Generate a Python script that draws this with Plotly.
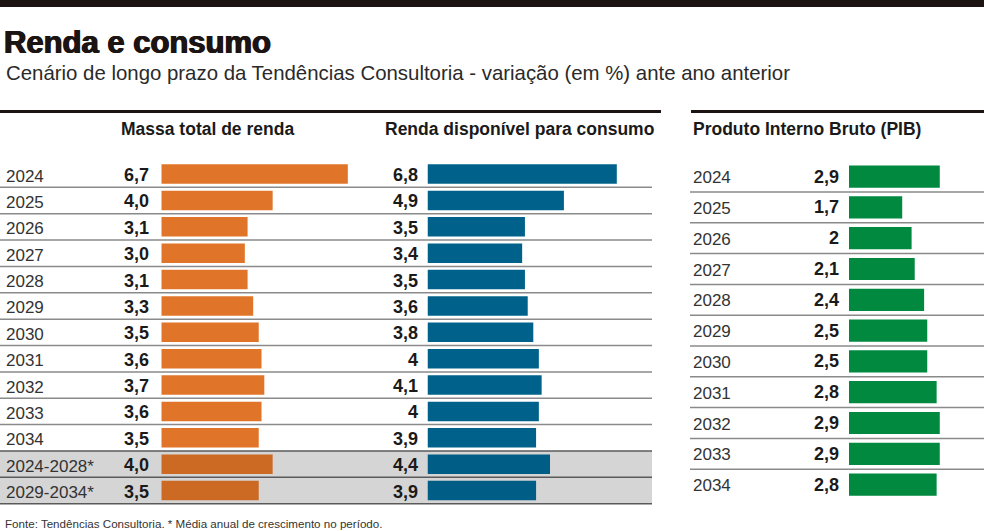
import plotly.graph_objects as go

# Data
periodos = ['2024', '2025', '2026', '2027', '2028', '2029', '2030', '2031', '2032', '2033', '2034',
            '2024-2028*', '2029-2034*']
massa_renda = [6.7, 4.0, 3.1, 3.0, 3.1, 3.3, 3.5, 3.6, 3.7, 3.6, 3.5, 4.0, 3.5]
renda_disponivel = [6.8, 4.9, 3.5, 3.4, 3.5, 3.6, 3.8, 4.0, 4.1, 4.0, 3.9, 4.4, 3.9]

anos_pib = ['2024', '2025', '2026', '2027', '2028', '2029', '2030', '2031', '2032', '2033', '2034']
pib = [2.9, 1.7, 2.0, 2.1, 2.4, 2.5, 2.5, 2.8, 2.9, 2.9, 2.8]

titulo = 'Renda e consumo'
subtitulo = 'Cenário de longo prazo da Tendências Consultoria - variação (em %) ante ano anterior'
fonte = 'Fonte: Tendências Consultoria. * Média anual de crescimento no período.'

W, H = 984, 531
FONT = 'Liberation Sans, Arial, sans-serif'
DARK = '#1c1412'


def px(x):
    return x / W


def py(y):
    return 1 - y / H


def fmt_fixed(v):
    return f'{v:.1f}'.replace('.', ',')


def fmt_short(v):
    return ('%g' % v).replace('.', ',')


# Average rows have a darker orange (on gray background)
media = ['*' in p for p in periodos]
cores_massa = ['#cc6a24' if m else '#e07428' for m in media]
cores_renda = ['#005d85' if m else '#00628a' for m in media]

fig = go.Figure()
fig.add_trace(go.Bar(x=massa_renda, y=periodos, orientation='h', marker_color=cores_massa,
                     marker_line_width=0, width=0.74, xaxis='x', yaxis='y', hoverinfo='x+y'))
fig.add_trace(go.Bar(x=renda_disponivel, y=periodos, orientation='h', marker_color=cores_renda,
                     marker_line_width=0, width=0.74, xaxis='x2', yaxis='y', hoverinfo='x+y'))
fig.add_trace(go.Bar(x=pib, y=anos_pib, orientation='h', marker_color='#00893f',
                     marker_line_width=0, width=0.72, xaxis='x3', yaxis='y2', hoverinfo='x+y'))

shapes = []
# top dark band
shapes.append(dict(type='rect', xref='paper', yref='paper', x0=0, x1=1, y0=py(7), y1=1,
                   fillcolor=DARK, line_width=0))
# thick lines above tables
shapes.append(dict(type='line', xref='paper', yref='paper', x0=0, x1=px(661), y0=py(111.5), y1=py(111.5),
                   line=dict(color=DARK, width=3)))
shapes.append(dict(type='line', xref='paper', yref='paper', x0=px(691), x1=1, y0=py(111.5), y1=py(111.5),
                   line=dict(color=DARK, width=3)))
# gray background for average rows
n_media = sum(media)
shapes.append(dict(type='rect', xref='paper', yref='y', x0=0, x1=px(652),
                   y0=len(periodos) - n_media - 0.5, y1=len(periodos) - 0.5,
                   fillcolor='#d5d5d5', line_width=0, layer='below'))
# row separators, left table
for i in range(len(periodos)):
    cor = '#5a5a5a' if i >= len(periodos) - n_media - 1 else '#8a8a8a'
    shapes.append(dict(type='line', xref='paper', yref='y', x0=0, x1=px(652), y0=i + 0.5, y1=i + 0.5,
                       line=dict(color=cor, width=1.5)))
# row separators, right table
for i in range(len(anos_pib) - 1):
    shapes.append(dict(type='line', xref='paper', yref='y2', x0=px(690), x1=1, y0=i + 0.5, y1=i + 0.5,
                       line=dict(color='#8a8a8a', width=1.5)))

annotations = []
annotations.append(dict(text='<b>' + titulo + '</b>', x=px(2), y=py(43), xref='paper', yref='paper',
                        xanchor='left', yanchor='middle', showarrow=False,
                        font=dict(family=FONT, size=31, color=DARK,
                                  shadow='0.7px 0 0 #1c1412, -0.7px 0 0 #1c1412')))
annotations.append(dict(text=subtitulo, x=px(4), y=py(73), xref='paper', yref='paper',
                        xanchor='left', yanchor='middle', showarrow=False,
                        font=dict(family=FONT, size=20.4, color='#2a2a2a')))
cabecalhos = [('Massa total de renda', 207, 'center'),
              ('Renda disponível para consumo', 519, 'center'),
              ('Produto Interno Bruto (PIB)', 691, 'left')]
for txt, x, anc in cabecalhos:
    annotations.append(dict(text='<b>' + txt + '</b>', x=px(x), y=py(129), xref='paper', yref='paper',
                            xanchor=anc, yanchor='middle', showarrow=False,
                            font=dict(family=FONT, size=17.5, color='#1a1a1a')))

# category positions are given by index so that '2024' is not read as a number
for i, (p, v1, v2) in enumerate(zip(periodos, massa_renda, renda_disponivel)):
    annotations.append(dict(text=p, x=px(4), y=i, xref='paper', yref='y', xanchor='left', yanchor='middle',
                            yshift=-2, showarrow=False, font=dict(family=FONT, size=17, color='#333333')))
    annotations.append(dict(text='<b>' + fmt_fixed(v1) + '</b>', x=0, y=i, xref='x', yref='y',
                            xanchor='right', yanchor='middle', xshift=-10, yshift=-1, showarrow=False,
                            font=dict(family=FONT, size=18, color='#1a1a1a')))
    annotations.append(dict(text='<b>' + fmt_short(v2) + '</b>', x=0, y=i, xref='x2', yref='y',
                            xanchor='right', yanchor='middle', xshift=-8, yshift=-1, showarrow=False,
                            font=dict(family=FONT, size=18, color='#1a1a1a')))

for i, (a, v) in enumerate(zip(anos_pib, pib)):
    annotations.append(dict(text=a, x=px(691), y=i, xref='paper', yref='y2', xanchor='left', yanchor='middle',
                            yshift=-1, showarrow=False, font=dict(family=FONT, size=17, color='#333333')))
    annotations.append(dict(text='<b>' + fmt_short(v) + '</b>', x=0, y=i, xref='x3', yref='y2',
                            xanchor='right', yanchor='middle', xshift=-8, showarrow=False,
                            font=dict(family=FONT, size=18, color='#1a1a1a')))

annotations.append(dict(text=fonte, x=px(3), y=py(523), xref='paper', yref='paper',
                        xanchor='left', yanchor='middle', showarrow=False,
                        font=dict(family=FONT, size=11.6, color='#333333')))

# Axes: fixed pixel scale (about 27.8 px per point on the left, 31.3 on the right)
eixo_x = dict(visible=False, fixedrange=True)
left_rows = (174.1, 26.37)   # centre of first row, row pitch (px)
right_rows = (176.6, 30.8)

fig.update_layout(
    width=W, height=H,
    margin=dict(l=0, r=0, t=0, b=0),
    paper_bgcolor='white', plot_bgcolor='rgba(0,0,0,0)',
    showlegend=False, barmode='overlay',
    xaxis=dict(eixo_x, domain=[px(161.3), px(161.3 + 7 * 27.84)], range=[0, 7], anchor='y'),
    xaxis2=dict(eixo_x, domain=[px(427.5), px(427.5 + 7 * 27.84)], range=[0, 7], anchor='y'),
    xaxis3=dict(eixo_x, domain=[px(849), px(849 + 3 * 31.3)], range=[0, 3], anchor='y2'),
    yaxis=dict(visible=False, type='category', domain=[0, 1], anchor='x', fixedrange=True,
               range=[(H - left_rows[0]) / left_rows[1], -left_rows[0] / left_rows[1]]),
    yaxis2=dict(visible=False, type='category', domain=[0, 1], anchor='x3', fixedrange=True,
                range=[(H - right_rows[0]) / right_rows[1], -right_rows[0] / right_rows[1]]),
    shapes=shapes,
    annotations=annotations,
)

# page body margin off, so the figure sits at the window's corner
fig.write_html('out.html', config={'displayModeBar': False},
               post_script="document.body.style.margin='0';")
